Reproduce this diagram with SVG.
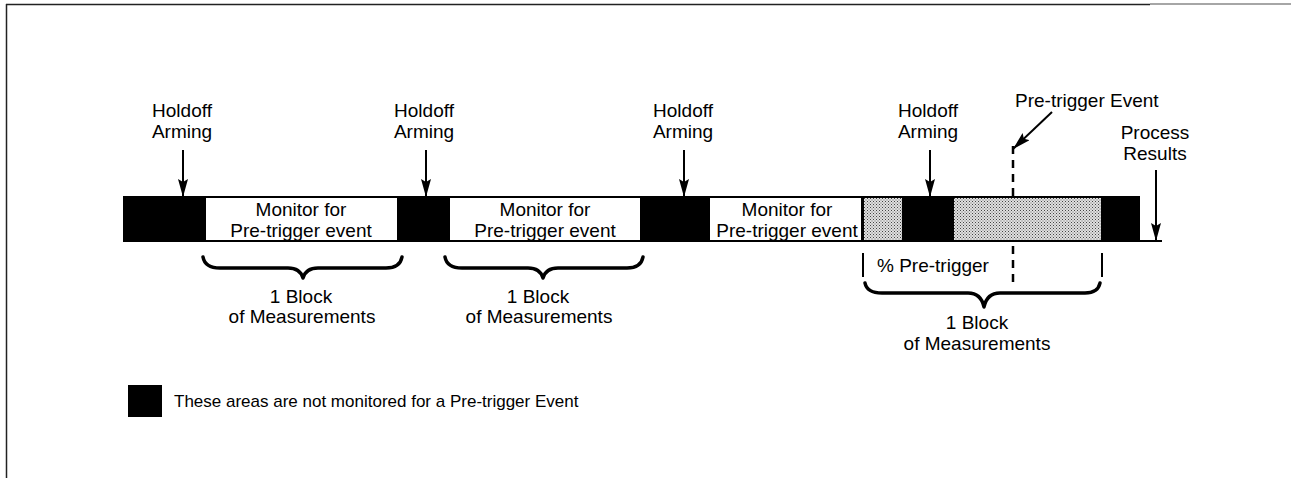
<svg xmlns="http://www.w3.org/2000/svg" width="1291" height="478" viewBox="0 0 1291 478">
<style>
text{font-family:"Liberation Sans",Arial,sans-serif;font-size:19px;fill:#000}
.c{text-anchor:middle}
.arr{stroke:#000;stroke-width:2;fill:none;marker-end:url(#ah)}
.brace{stroke:#000;stroke-width:3.5;fill:none;stroke-linejoin:round;stroke-linecap:round}
.box{fill:#fff;stroke:#000;stroke-width:2}
.stip{fill:url(#dots);stroke:#000;stroke-width:2}
.blk{fill:#000}
.dash{stroke:#000;stroke-width:2.5;stroke-dasharray:8 6;fill:none}
</style>
<defs>
<marker id="ah" markerUnits="userSpaceOnUse" markerWidth="18" markerHeight="10" refX="18" refY="5" orient="auto">
<path d="M0,0 L18,5 L0,10 L3,5 z" fill="#000"/>
</marker>
<pattern id="dots" patternUnits="userSpaceOnUse" width="3" height="3">
<rect width="3" height="3" fill="#e0e0e0"/>
<rect x="0" y="0" width="1" height="1" fill="#444"/>
<rect x="1.5" y="1.5" width="1" height="1" fill="#666"/>
</pattern>
</defs>
<rect width="1291" height="478" fill="#fff"/>
<g id="frame">
<line x1="6" y1="4.5" x2="1150" y2="4.5" stroke="#222" stroke-width="1.5"/>
<line x1="1150" y1="4" x2="1291" y2="4" stroke="#888" stroke-width="1.5"/>
<line x1="6.5" y1="4" x2="6.5" y2="478" stroke="#222" stroke-width="1.5"/>
</g>
<g id="timeline">
<rect class="blk" x="123" y="196" width="1017" height="46"/>
<line x1="1130" y1="241" x2="1162" y2="241" stroke="#000" stroke-width="2"/>
</g>
<g id="monitor1">
<rect class="box" x="205" y="197" width="193" height="44"/>
<text class="c" x="301" y="216">Monitor for</text>
<text class="c" x="301" y="237">Pre-trigger event</text>
</g>
<g id="monitor2">
<rect class="box" x="449" y="197" width="192" height="44"/>
<text class="c" x="545" y="216">Monitor for</text>
<text class="c" x="545" y="237">Pre-trigger event</text>
</g>
<g id="monitor3">
<rect class="box" x="709" y="197" width="153" height="44"/>
<text class="c" x="787" y="216">Monitor for</text>
<text class="c" x="787" y="237">Pre-trigger event</text>
</g>
<g id="pretrigger-area1"><rect class="stip" x="863" y="197" width="40" height="44"/></g>
<g id="pretrigger-area2"><rect class="stip" x="953" y="197" width="149" height="44"/></g>
<g id="holdoff1"><text class="c" x="182" y="117">Holdoff</text><text class="c" x="182" y="138">Arming</text></g>
<g id="holdoff2"><text class="c" x="424" y="117">Holdoff</text><text class="c" x="424" y="138">Arming</text></g>
<g id="holdoff3"><text class="c" x="683" y="117">Holdoff</text><text class="c" x="683" y="138">Arming</text></g>
<g id="holdoff4"><text class="c" x="928" y="117">Holdoff</text><text class="c" x="928" y="138">Arming</text></g>
<g id="pretrigger-event"><text x="1015" y="107">Pre-trigger Event</text></g>
<g id="process-results"><text class="c" x="1155" y="139">Process</text><text class="c" x="1155" y="160">Results</text></g>
<g id="pct-pretrigger"><text x="877" y="272">% Pre-trigger</text></g>
<g id="block1"><text class="c" x="301" y="303">1 Block</text><text class="c" x="302" y="323">of Measurements</text></g>
<g id="block2"><text class="c" x="538" y="303">1 Block</text><text class="c" x="539" y="323">of Measurements</text></g>
<g id="block3"><text class="c" x="977" y="329">1 Block</text><text class="c" x="977" y="350">of Measurements</text></g>
<g id="legend">
<rect class="blk" x="128" y="385" width="34" height="32"/>
<text x="174" y="407" style="font-size:17px">These areas are not monitored for a Pre-trigger Event</text>
</g>
<g id="connectors">
<line class="arr" x1="183" y1="150" x2="183" y2="197"/>
<line class="arr" x1="426" y1="150" x2="426" y2="197"/>
<line class="arr" x1="684" y1="150" x2="684" y2="197"/>
<line class="arr" x1="930" y1="150" x2="930" y2="197"/>
<line class="arr" x1="1156" y1="170" x2="1156" y2="241"/>
<line class="arr" x1="1052" y1="112" x2="1013" y2="149"/>
<line class="dash" x1="1013" y1="146" x2="1013" y2="196"/>
<line class="dash" x1="1013" y1="246" x2="1013" y2="284"/>
<line x1="863" y1="253" x2="863" y2="277" stroke="#000" stroke-width="2"/>
<line x1="1102" y1="253" x2="1102" y2="277" stroke="#000" stroke-width="2"/>
<path class="brace" d="M203,257 Q205,268 220,268 L288,268 Q300,268 303,278 Q306,268 318,268 L386,268 Q400,268 402,257"/>
<path class="brace" d="M445,257 Q447,268 462,268 L528,268 Q540,268 543,278 Q546,268 558,268 L627,268 Q641,268 643,257"/>
<path class="brace" d="M865,283 Q867,293 882,293 L968,293 Q981,293 984,307 Q987,293 1000,293 L1085,293 Q1098,293 1100,283"/>
</g>
</svg>
